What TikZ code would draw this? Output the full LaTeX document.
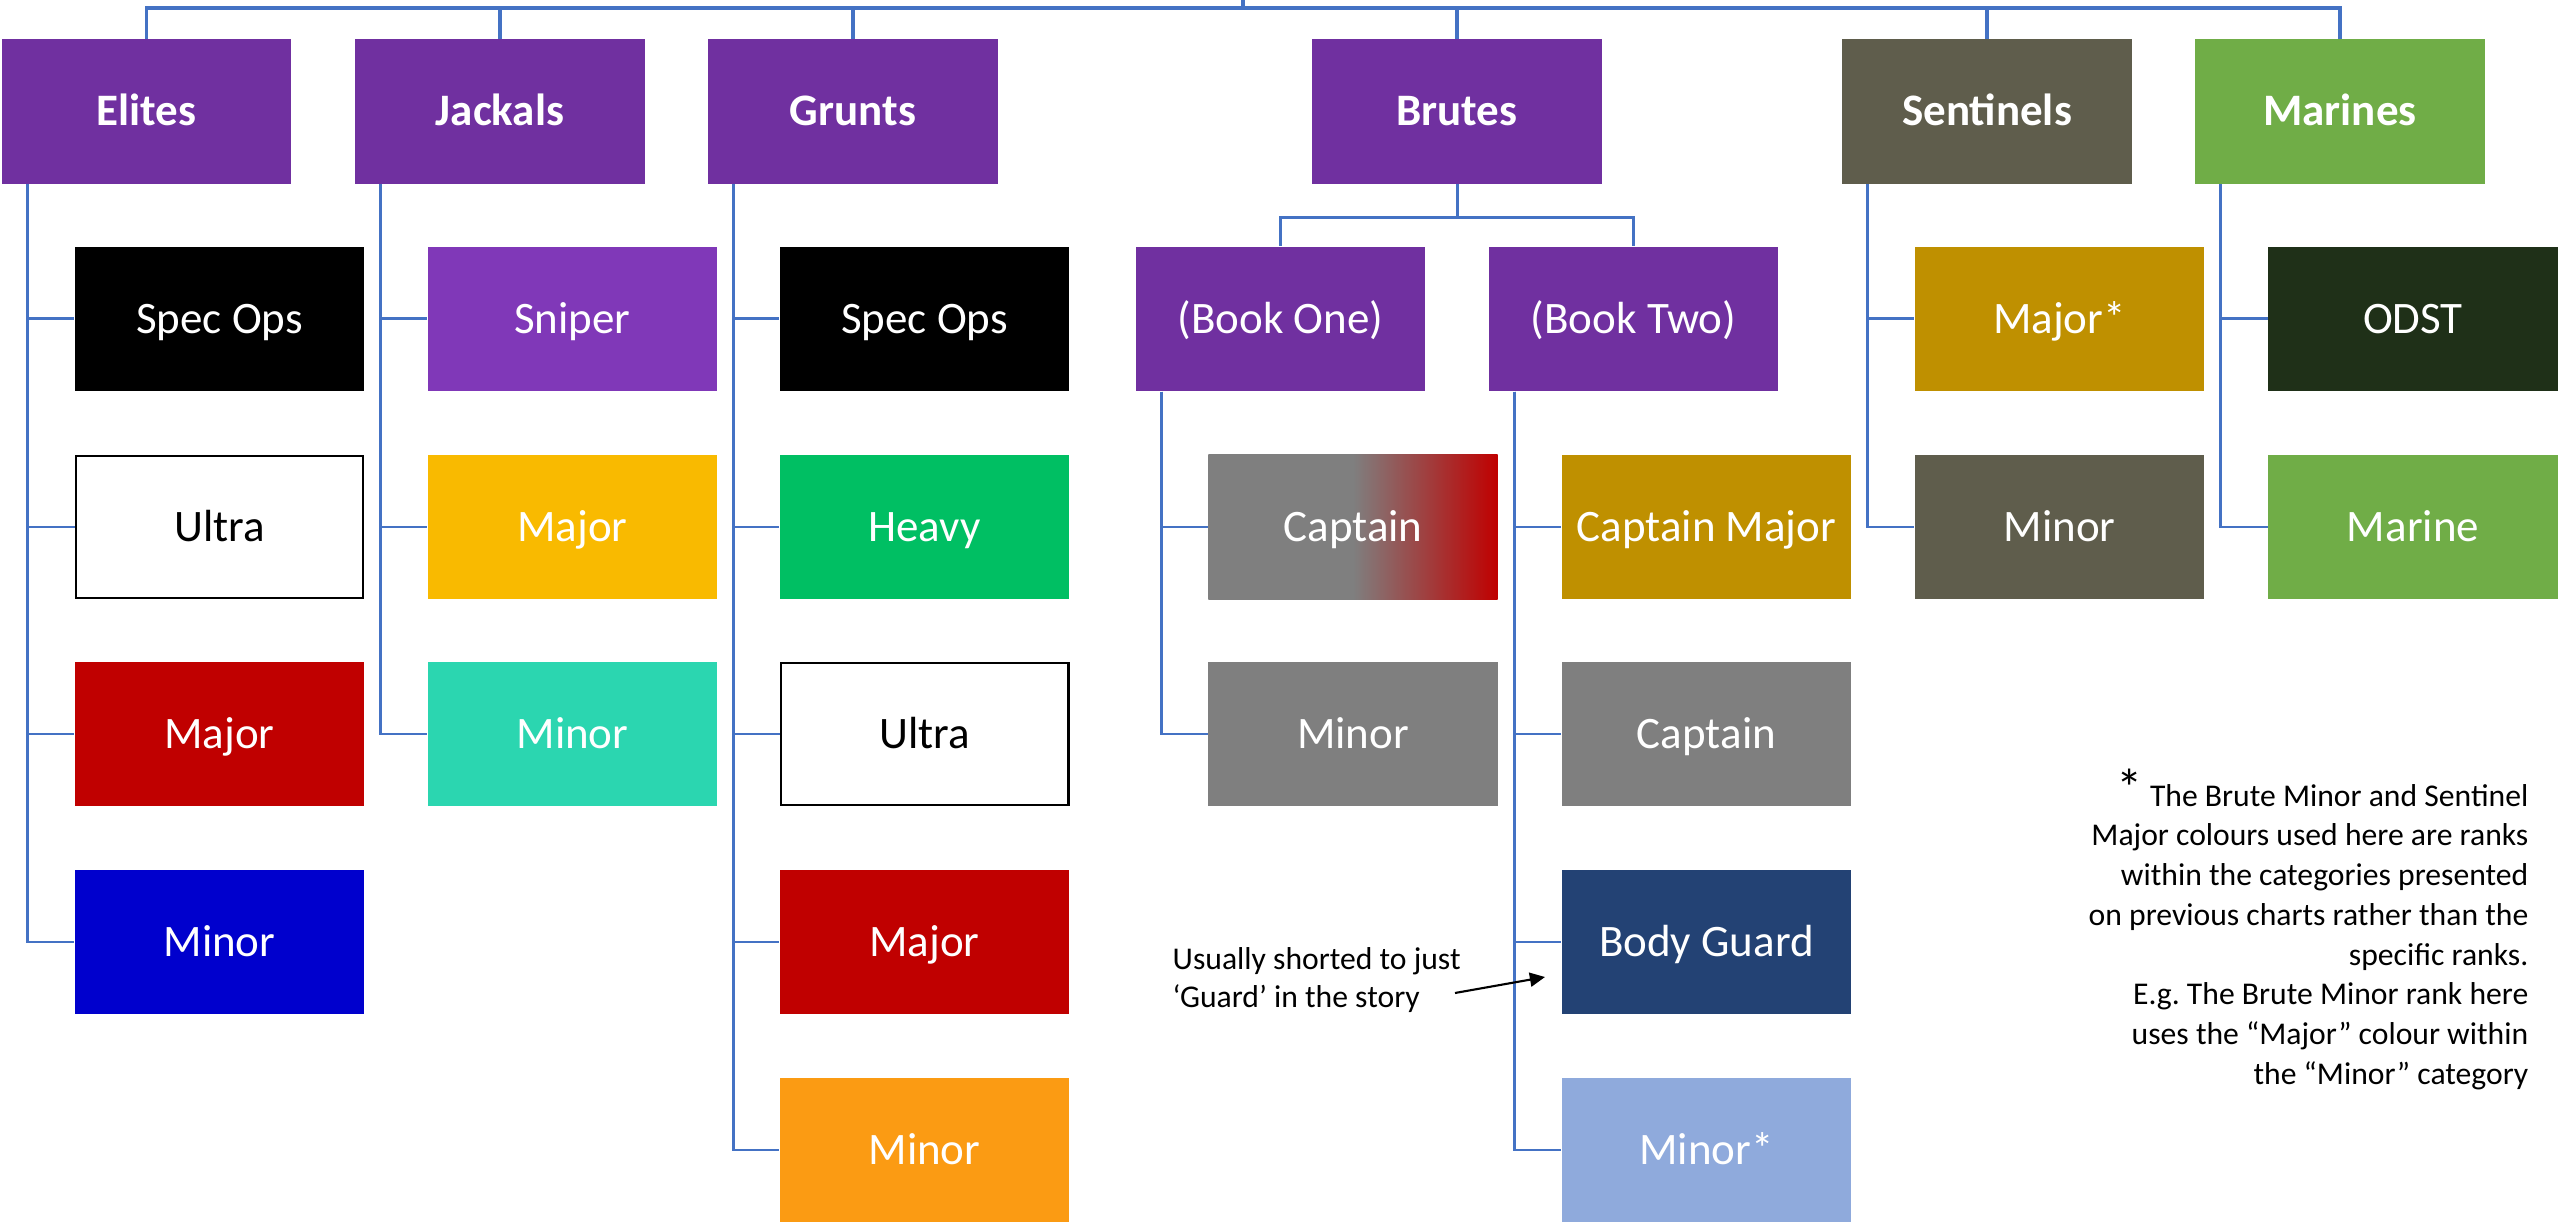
\documentclass[tikz,border=0pt]{standalone}
\usepackage{fontspec}
\setmainfont{Carlito}
\usetikzlibrary{arrows.meta}
\definecolor{chartpurple}{HTML}{7030A0}
\definecolor{sniperpurple}{HTML}{8038B8}
\definecolor{sentinelgrey}{HTML}{5F5D4C}
\definecolor{marinegreen}{HTML}{70AD47}
\definecolor{odstgreen}{HTML}{1F3018}
\definecolor{goldmajor}{HTML}{BF9000}
\definecolor{jackalgold}{HTML}{F9BA00}
\definecolor{jackalteal}{HTML}{2BD6B0}
\definecolor{heavygreen}{HTML}{00BF63}
\definecolor{chartred}{HTML}{C00000}
\definecolor{gruntorange}{HTML}{FB9B13}
\definecolor{eliteblue}{HTML}{0000CD}
\definecolor{chartgrey}{HTML}{7F7F7F}
\definecolor{guardblue}{HTML}{234274}
\definecolor{minorblue}{HTML}{8FAADC}
\definecolor{linkblue}{HTML}{4472C4}
\pgfdeclarehorizontalshading{captainfade}{100bp}{color(0bp)=(chartgrey); color(50bp)=(chartgrey); color(75bp)=(chartred); color(100bp)=(chartred)}
\newcommand{\kidfont}{\fontsize{12.8}{15}\selectfont}
\newcommand{\headfont}{\fontsize{12.8}{15}\selectfont\bfseries}
\begin{document}
\begin{tikzpicture}[x=0.01cm, y=-0.01cm,
  box/.style={minimum width=2.89cm, minimum height=1.44cm, inner sep=0pt, text height=10pt, text depth=2pt, text=white, font=\kidfont},
  head/.style={box, fill=chartpurple, font=\headfont},
  ultrabox/.style={box, fill=white, text=black, draw=black, line width=0.8pt, minimum width=2.87cm, minimum height=1.42cm},
  link/.style={draw=linkblue, line width=0.85pt},
  remark/.style={inner sep=0pt, text=black}]
\useasboundingbox (0,0) rectangle (2560,1225);

\node[head] (elites) at (146.5,111.5) {Elites};
\node[head] (jackals) at (500,111.5) {Jackals};
\node[head] (grunts) at (853,111.5) {Grunts};
\node[head] (brutes) at (1457,111.5) {Brutes};
\node[head, fill=sentinelgrey] (sentinels) at (1987,111.5) {Sentinels};
\node[head, fill=marinegreen] (marines) at (2340,111.5) {Marines};

\node[box, fill=black] (e1) at (219.5,319) {Spec Ops};
\node[ultrabox] (e2) at (219.5,527) {Ultra};
\node[box, fill=chartred] (e3) at (219.5,734) {Major};
\node[box, fill=eliteblue] (e4) at (219.5,942) {Minor};

\node[box, fill=sniperpurple] (j1) at (572.5,319) {Sniper};
\node[box, fill=jackalgold] (j2) at (572.5,527) {Major};
\node[box, fill=jackalteal] (j3) at (572.5,734) {Minor};

\node[box, fill=black] (g1) at (924.5,319) {Spec Ops};
\node[box, fill=heavygreen] (g2) at (924.5,527) {Heavy};
\node[ultrabox] (g3) at (924.5,734) {Ultra};
\node[box, fill=chartred] (g4) at (924.5,942) {Major};
\node[box, fill=gruntorange] (g5) at (924.5,1150) {Minor};

\node[box, fill=chartpurple] (bookone) at (1280.5,319) {(Book One)};
\node[box, fill=chartpurple] (booktwo) at (1633.5,319) {(Book Two)};
\node[box, shading=captainfade] (b1) at (1353,527) {Captain};
\node[box, fill=chartgrey] (b2) at (1353,734) {Minor};
\node[box, fill=goldmajor] (t1) at (1706.5,527) {Captain Major};
\node[box, fill=chartgrey] (t2) at (1706.5,734) {Captain};
\node[box, fill=guardblue] (t3) at (1706.5,942) {Body Guard};
\node[box, fill=minorblue] (t4) at (1706.5,1150) {Minor*};

\node[box, fill=goldmajor] (s1) at (2059.5,319) {Major*};
\node[box, fill=sentinelgrey] (s2) at (2059.5,527) {Minor};

\node[box, fill=odstgreen] (m1) at (2413,319) {ODST};
\node[box, fill=marinegreen] (m2) at (2413,527) {Marine};

\coordinate (apex) at (1243,0);
\coordinate (hub) at (1243,8);
\draw[link, line width=1.1pt] (apex) -- (hub);
\draw[link, line width=1.1pt] (hub) -| (elites.north);
\draw[link, line width=1.1pt] (hub) -| (jackals.north);
\draw[link, line width=1.1pt] (hub) -| (grunts.north);
\draw[link, line width=1.1pt] (hub) -| (brutes.north);
\draw[link, line width=1.1pt] (hub) -| (sentinels.north);
\draw[link, line width=1.1pt] (hub) -| (marines.north);

\draw[link] ([xshift=0.26cm]elites.south west) |- (e1.west);
\draw[link] ([xshift=0.26cm]elites.south west) |- (e2.west);
\draw[link] ([xshift=0.26cm]elites.south west) |- (e3.west);
\draw[link] ([xshift=0.26cm]elites.south west) |- (e4.west);
\draw[link] ([xshift=0.26cm]jackals.south west) |- (j1.west);
\draw[link] ([xshift=0.26cm]jackals.south west) |- (j2.west);
\draw[link] ([xshift=0.26cm]jackals.south west) |- (j3.west);
\draw[link] ([xshift=0.26cm]grunts.south west) |- (g1.west);
\draw[link] ([xshift=0.26cm]grunts.south west) |- (g2.west);
\draw[link] ([xshift=0.26cm]grunts.south west) |- (g3.west);
\draw[link] ([xshift=0.26cm]grunts.south west) |- (g4.west);
\draw[link] ([xshift=0.26cm]grunts.south west) |- (g5.west);
\draw[link] (brutes.south) -- ++(0,33) -| (bookone.north);
\draw[link] (brutes.south) -- ++(0,33) -| (booktwo.north);
\draw[link] ([xshift=0.26cm]bookone.south west) |- (b1.west);
\draw[link] ([xshift=0.26cm]bookone.south west) |- (b2.west);
\draw[link] ([xshift=0.26cm]booktwo.south west) |- (t1.west);
\draw[link] ([xshift=0.26cm]booktwo.south west) |- (t2.west);
\draw[link] ([xshift=0.26cm]booktwo.south west) |- (t3.west);
\draw[link] ([xshift=0.26cm]booktwo.south west) |- (t4.west);
\draw[link] ([xshift=0.26cm]sentinels.south west) |- (s1.west);
\draw[link] ([xshift=0.26cm]sentinels.south west) |- (s2.west);
\draw[link] ([xshift=0.26cm]marines.south west) |- (m1.west);
\draw[link] ([xshift=0.26cm]marines.south west) |- (m2.west);

\node[remark, align=left, anchor=north west, font=\fontsize{9}{10.8}\selectfont] (guardnote) at (1172,947) {Usually shorted to just\\‘Guard’ in the story};
\coordinate (guardtail) at (1455,993);
\coordinate (guardtip) at (1545,977);
\draw[line width=0.6pt, -{Triangle[length=4.3pt, width=4pt]}] (guardtail) -- (guardtip);

\node[remark, align=right, anchor=north east, font=\fontsize{9}{11.3}\selectfont] (starnote) at (2529,768) {{\fontsize{15}{15}\selectfont *} The Brute Minor and Sentinel\\Major colours used here are ranks\\within the categories presented\\on previous charts rather than the\\specific ranks.\\E.g.\ The Brute Minor rank here\\uses the “Major” colour within\\the “Minor” category};
\end{tikzpicture}
\end{document}
